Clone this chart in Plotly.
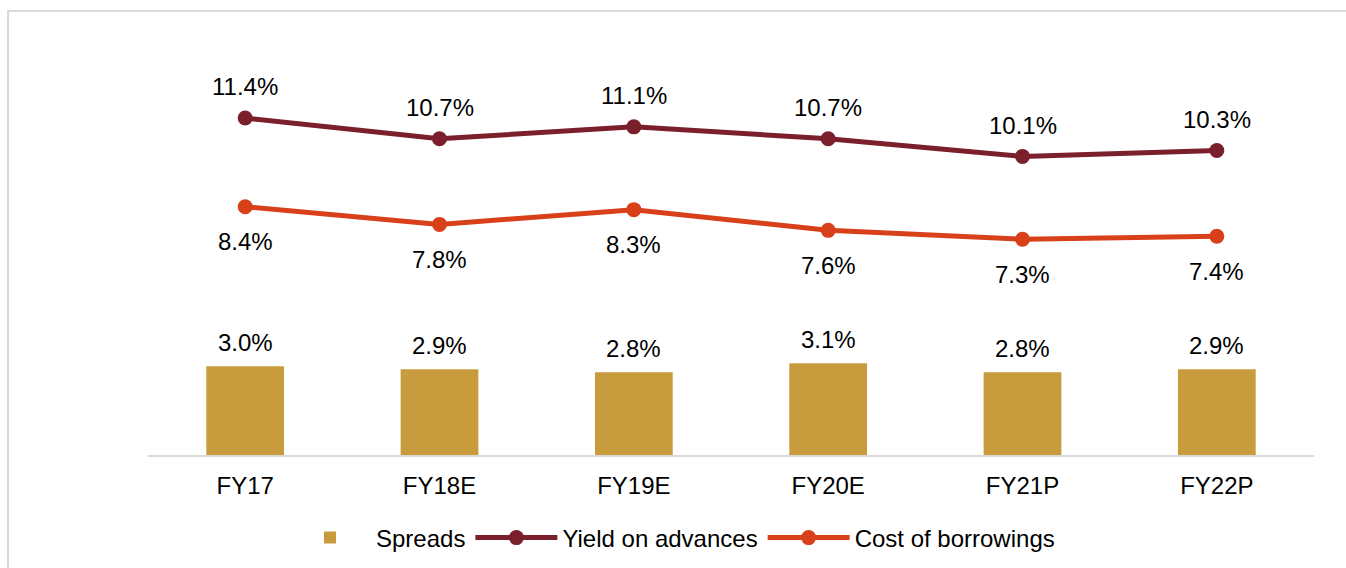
import plotly.graph_objects as go

categories = ["FY17", "FY18E", "FY19E", "FY20E", "FY21P", "FY22P"]
spreads = [3.0, 2.9, 2.8, 3.1, 2.8, 2.9]
yield_adv = [11.4, 10.7, 11.1, 10.7, 10.1, 10.3]
cost_borr = [8.4, 7.8, 8.3, 7.6, 7.3, 7.4]

BAR_C = "#C89B3C"
YLD_C = "#7B1F2C"
CST_C = "#D8401A"
FONT = "Arial, Liberation Sans, sans-serif"
FS = 24

fig = go.Figure()
fig.add_trace(go.Bar(x=categories, y=spreads, name="Spreads", marker_color=BAR_C,
                     marker_line_width=0, width=0.4))
fig.add_trace(go.Scatter(x=categories, y=yield_adv, name="Yield on advances", mode="lines+markers",
                         line=dict(color=YLD_C, width=5), marker=dict(color=YLD_C, size=15)))
fig.add_trace(go.Scatter(x=categories, y=cost_borr, name="Cost of borrowings", mode="lines+markers",
                         line=dict(color=CST_C, width=5), marker=dict(color=CST_C, size=15)))

ann = []
for c, v in zip(categories, spreads):
    ann.append(dict(x=c, y=v, text=f"{v:.1f}%", showarrow=False, yanchor="middle", yshift=24,
                    font=dict(family=FONT, size=FS, color="#000000")))
for c, v in zip(categories, yield_adv):
    ann.append(dict(x=c, y=v, text=f"{v:.1f}%", showarrow=False, yanchor="middle", yshift=31,
                    font=dict(family=FONT, size=FS, color="#000000")))
for c, v in zip(categories, cost_borr):
    ann.append(dict(x=c, y=v, text=f"{v:.1f}%", showarrow=False, yanchor="middle", yshift=-35,
                    font=dict(family=FONT, size=FS, color="#000000")))

fig.update_layout(
    width=1346, height=568,
    margin=dict(l=148, r=32, t=50, b=113, autoexpand=False),
    paper_bgcolor="white", plot_bgcolor="white",
    font=dict(family=FONT, size=FS, color="#000000"),
    showlegend=True,
    legend=dict(orientation="h", xref="container", yref="container", x=0.211, xanchor="left",
                y=1 - 538 / 568, yanchor="middle",
                font=dict(family=FONT, size=FS), itemwidth=82, traceorder="normal"),
    xaxis=dict(showgrid=False, showline=True, linecolor="#D9D9D9", linewidth=2, automargin=False,
               ticks="outside", ticklen=8, tickcolor="rgba(0,0,0,0)",
               tickfont=dict(family=FONT, size=FS, color="#000000")),
    yaxis=dict(range=[0, 13.7], visible=False, showgrid=False, automargin=False),
    annotations=ann,
    shapes=[dict(type="rect", xref="paper", yref="paper", x0=-0.12, x1=1.5, y0=-0.6, y1=1.0963,
                 line=dict(color="#D9D9D9", width=2), fillcolor="rgba(0,0,0,0)", layer="below")],
    bargap=0.6,
)

fig.write_html("out.html", config={"displayModeBar": False},
               post_script="document.body.style.margin='0';document.body.style.overflow='hidden';")
